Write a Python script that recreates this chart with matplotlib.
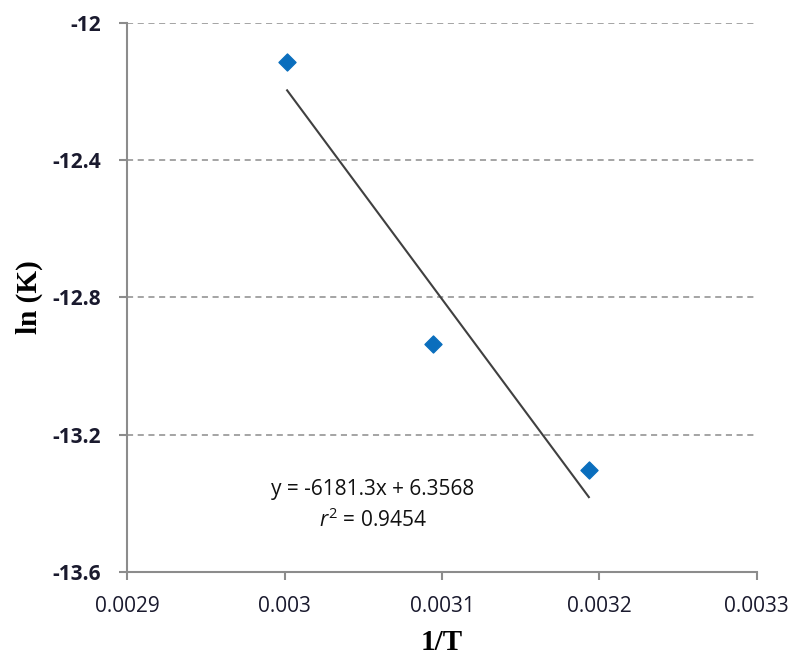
import matplotlib.pyplot as plt
import numpy as np

plt.rcParams['mathtext.fontset'] = 'custom'
plt.rcParams['mathtext.it'] = 'Open Sans:italic'
plt.rcParams['mathtext.rm'] = 'Open Sans'

# datos
inv_t = [0.0030016, 0.0030943, 0.0031933]
ln_k = [-12.114, -12.936, -13.303]
pendiente = -6181.3
intercepto = 6.3568
r2 = 0.9454

x_ticks = [0.0029, 0.003, 0.0031, 0.0032, 0.0033]
x_labels = ['0.0029', '0.003', '0.0031', '0.0032', '0.0033']
y_ticks = [-13.6, -13.2, -12.8, -12.4, -12]
y_labels = ['-13.6', '-13.2', '-12.8', '-12.4', '-12']

fig = plt.figure(figsize=(8, 6.64), dpi=100)
ax = fig.add_axes([0.159, 0.1386, 0.787, 0.8272])

# lineas de cuadricula horizontales
for yv in y_ticks[1:]:
    ax.axhline(yv, color='#8c8c8c', linestyle=(0, (4, 3)), linewidth=1.1, zorder=0)

# puntos
ax.scatter(inv_t, ln_k, marker='D', s=75, color='#0a6ebd', zorder=3)

# linea de tendencia
xs = np.array([min(inv_t), max(inv_t)])
ax.plot(xs, pendiente * xs + intercepto, color='#404040', linewidth=1.5, zorder=2)

ax.text(0.0030562, -13.361, 'y = -6181.3x + 6.3568', ha='center', va='center',
        fontsize=15, family='Open Sans', color='#111111')
ax.text(0.0030562, -13.449, r'$r^2$ = %.4f' % r2, ha='center', va='center',
        fontsize=15, family='Open Sans', color='#111111')

ax.set_xlim(0.0029, 0.0033)
ax.set_ylim(-13.6, -12)
ax.set_xticks(x_ticks)
ax.set_xticklabels(x_labels, fontsize=15, family='Open Sans', color='#1a1a2e')
ax.set_yticks(y_ticks)
ax.set_yticklabels(y_labels, fontsize=15, family='Open Sans', fontweight='bold', color='#1a1a2e')

ax.spines['top'].set_visible(False)
ax.spines['right'].set_visible(False)
for s in ['left', 'bottom']:
    ax.spines[s].set_color('#8c8c8c')
    ax.spines[s].set_linewidth(1.5)
ax.tick_params(axis='both', direction='out', length=6, width=1.5, color='#8c8c8c')
ax.tick_params(axis='y', pad=13)
ax.tick_params(axis='x', pad=11)

ax.set_xlabel('1/T', fontsize=21, family='Liberation Serif', fontweight='bold', va='center')
ax.xaxis.set_label_coords(0.5, -0.1275)
ax.set_ylabel('ln (K)', fontsize=21, family='Liberation Serif', fontweight='bold', va='center')
ax.yaxis.set_label_coords(-0.1557, 0.5)

plt.savefig('out.png', dpi=100)
